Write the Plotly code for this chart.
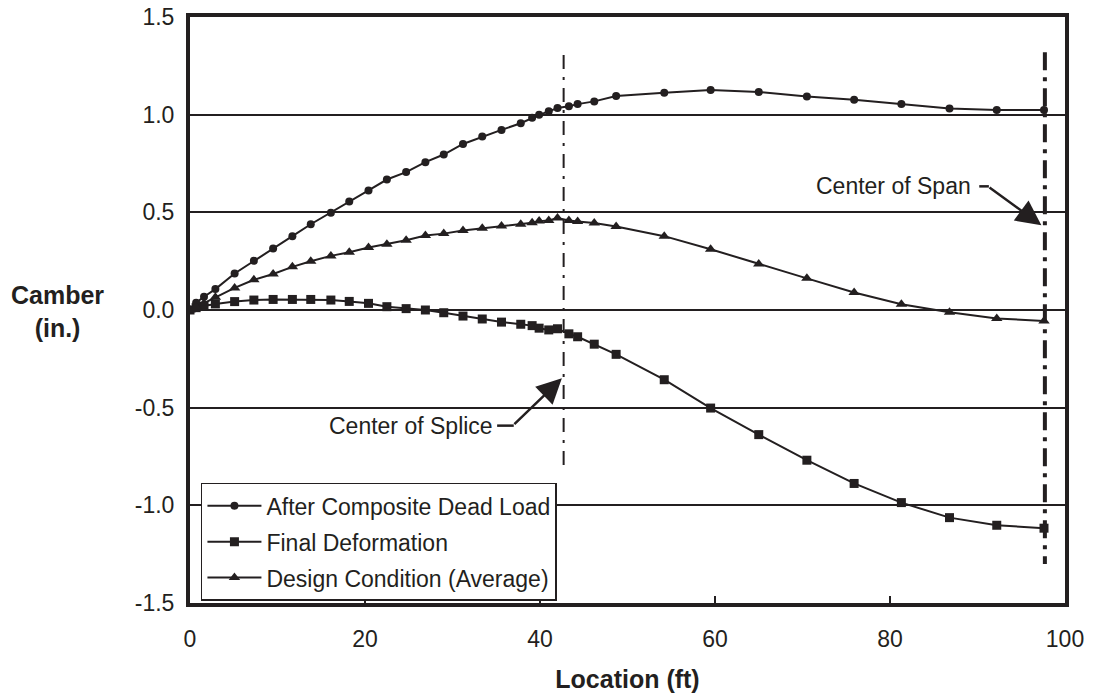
import plotly.graph_objects as go

# ---------------- data ----------------
location_ft = [0, 0.7, 1.6, 2.9, 5.1, 7.3, 9.5, 11.7, 13.8, 16.1, 18.2, 20.4,
               22.5, 24.7, 26.9, 29.0, 31.2, 33.4, 35.6, 37.8, 39.1, 39.9,
               41.0, 42.0, 43.3, 44.3, 46.2, 48.7, 54.2, 59.5, 65.0, 70.5,
               75.9, 81.3, 86.8, 92.2, 97.6]

after_composite = [0, 0.037, 0.068, 0.107, 0.187, 0.252, 0.315, 0.378, 0.439,
                   0.498, 0.556, 0.612, 0.668, 0.706, 0.757, 0.796, 0.850,
                   0.888, 0.922, 0.956, 0.984, 0.999, 1.017, 1.034, 1.043,
                   1.054, 1.068, 1.095, 1.112, 1.126, 1.116, 1.093, 1.077,
                   1.055, 1.032, 1.024, 1.024]

final_deformation = [0, 0.012, 0.020, 0.031, 0.043, 0.051, 0.054, 0.054, 0.054,
                     0.051, 0.044, 0.034, 0.017, 0.007, 0.0, -0.014, -0.031,
                     -0.046, -0.062, -0.073, -0.080, -0.093, -0.102, -0.096,
                     -0.122, -0.137, -0.175, -0.227, -0.357, -0.502, -0.638,
                     -0.769, -0.888, -0.986, -1.063, -1.102, -1.117]

design_condition = [0, 0.015, 0.035, 0.065, 0.113, 0.155, 0.184, 0.221, 0.250,
                    0.277, 0.296, 0.320, 0.337, 0.357, 0.381, 0.391, 0.407,
                    0.418, 0.430, 0.439, 0.447, 0.455, 0.458, 0.471, 0.458,
                    0.453, 0.445, 0.427, 0.378, 0.311, 0.235, 0.162, 0.090,
                    0.029, -0.012, -0.043, -0.056]

series_names = ["After Composite Dead Load", "Final Deformation",
                "Design Condition (Average)"]

splice_x = 42.7
span_x = 97.7

x_ticks = [0, 20, 40, 60, 80, 100]
x_tick_text = ["0", "20", "40", "60", "80", "100"]
y_ticks = [-1.5, -1.0, -0.5, 0.0, 0.5, 1.0, 1.5]
y_tick_text = ["-1.5", "-1.0", "-0.5", "0.0", "0.5", "1.0", "1.5"]

# ---------------- styling ----------------
INK = "#231f20"
FONT = "Liberation Sans, Arial, sans-serif"
FS = 23
FS_TITLE = 25

fig = go.Figure()

series = [
    (series_names[0], after_composite, "circle", 8),
    (series_names[1], final_deformation, "square", 9),
    (series_names[2], design_condition, "triangle-up", 10),
]
for i, (name, vals, sym, size) in enumerate(series):
    fig.add_trace(go.Scatter(
        x=location_ft, y=vals, name=name, mode="lines+markers",
        legendgroup=f"g{i}",
        line=dict(color=INK, width=2),
        marker=dict(symbol=sym, size=size, color=INK),
    ))

# reference lines
fig.add_shape(type="line", xref="x", yref="y", x0=splice_x, x1=splice_x,
              y0=1.305, y1=-0.80,
              line=dict(color=INK, width=2, dash="14px,8px,3px,8px"))
fig.add_shape(type="line", xref="x", yref="y", x0=span_x, x1=span_x,
              y0=1.32, y1=-1.30,
              line=dict(color=INK, width=4, dash="18px,7px,4px,7px"))

# annotation: Center of Splice
fig.add_annotation(x=34.9, y=-0.592, xref="x", yref="y", text="Center of Splice",
                   showarrow=False, xanchor="right", yanchor="middle",
                   font=dict(family=FONT, size=FS, color=INK))
fig.add_shape(type="line", xref="x", yref="y", x0=35.1, x1=37.0,
              y0=-0.592, y1=-0.592, line=dict(color=INK, width=2.5))
fig.add_annotation(x=42.5, y=-0.35, ax=36.9, ay=-0.592, xref="x", yref="y",
                   axref="x", ayref="y", text="", showarrow=True,
                   arrowhead=2, arrowsize=2, arrowwidth=2.5, arrowcolor=INK)

# annotation: Center of Span
fig.add_annotation(x=89.5, y=0.633, xref="x", yref="y", text="Center of Span",
                   showarrow=False, xanchor="right", yanchor="middle",
                   font=dict(family=FONT, size=FS, color=INK))
fig.add_shape(type="line", xref="x", yref="y", x0=90.2, x1=91.3,
              y0=0.633, y1=0.633, line=dict(color=INK, width=2.5))
fig.add_annotation(x=97.3, y=0.434, ax=91.2, ay=0.633, xref="x", yref="y",
                   axref="x", ayref="y", text="", showarrow=True,
                   arrowhead=2, arrowsize=2, arrowwidth=2.5, arrowcolor=INK)

# y axis title (horizontal, two lines)
fig.add_annotation(x=-0.152, y=0.497, xref="paper", yref="paper",
                   text="<b>Camber</b><br><b>(in.)</b>", showarrow=False,
                   xanchor="center", yanchor="middle", align="center",
                   font=dict(family=FONT, size=FS_TITLE, color=INK))

fig.update_layout(
    width=1101, height=696, autosize=False,
    margin=dict(l=190, r=36, t=17, b=93, autoexpand=False),
    paper_bgcolor="white", plot_bgcolor="white",
    font=dict(family=FONT, size=FS, color=INK),
    showlegend=True,
    legend=dict(x=0.0125, y=0.205, xanchor="left", yanchor="top",
                bgcolor="white", bordercolor=INK, borderwidth=1.5,
                font=dict(family=FONT, size=FS, color=INK),
                itemwidth=54, tracegroupgap=3),
    xaxis=dict(range=[0, 100], tickvals=x_ticks, ticktext=x_tick_text,
               ticks="inside", ticklen=7,
               tickwidth=2, tickcolor=INK, showline=True, linewidth=4,
               linecolor=INK, mirror=True, showgrid=False, zeroline=False,
               automargin=False, ticklabelstandoff=12,
               title=dict(text="<b>Location (ft)</b>", standoff=21,
                          font=dict(family=FONT, size=FS_TITLE, color=INK))),
    yaxis=dict(range=[-1.5, 1.5], tickvals=y_ticks, ticktext=y_tick_text,
               ticks="inside", ticklen=7, tickwidth=2, tickcolor=INK,
               showline=True, linewidth=4, linecolor=INK, mirror=True,
               showgrid=True, gridcolor=INK, gridwidth=1.5,
               zeroline=True, zerolinecolor=INK, zerolinewidth=1.5,
               automargin=False, ticklabelstandoff=7),
)

fig.write_html("out.html", config={"displayModeBar": False},
               post_script="document.body.style.margin='0px';")
